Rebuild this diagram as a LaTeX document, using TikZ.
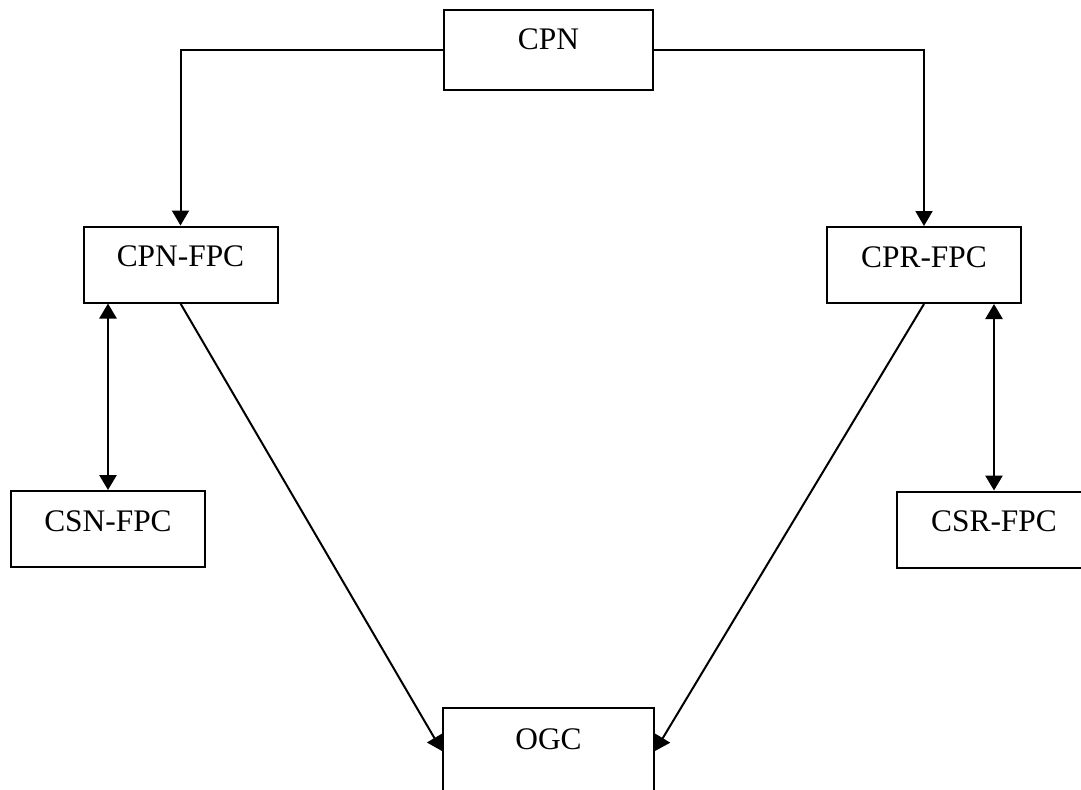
\documentclass[tikz,border=0pt]{standalone}
\usepackage{fontspec}
\setmainfont{Liberation Serif}
\usetikzlibrary{arrows.meta}

\tikzset{
  box/.style={draw, line width=1pt, fill=white, inner sep=0pt,
    minimum width=97pt, minimum height=38pt,
    text height=10.4pt, text depth=8pt,
    font=\fontsize{15.7}{18}\selectfont},
  link/.style={line width=1pt, -{Triangle[length=7.5pt,width=8.5pt]}},
  twoway/.style={line width=1.3pt,
    {Triangle[length=7.5pt,width=8.5pt]}-{Triangle[length=7.5pt,width=8.5pt]}},
}

\begin{document}
\begin{tikzpicture}[x=0.5pt,y=-0.5pt]
  \useasboundingbox (0,0) rectangle (1081,789);

  % top box
  \node[box, minimum width=104.5pt, minimum height=40pt, text depth=11pt] (cpn) at (548.5,50) {CPN};

  % the two FPC boxes under it
  \node[box] (cpnfpc) at (180.5,264.5) {CPN-FPC};
  \node[box] (cprfpc) at (924,265) {CPR-FPC};

  % side boxes
  \node[box] (csnfpc) at (108,529) {CSN-FPC};
  \node[box] (csrfpc) at (994,529.5) {CSR-FPC};

  % bottom box, cut by the page edge
  \node[box, minimum width=105.5pt, minimum height=43pt, text depth=12pt] (ogc) at (548.5,751) {OGC};

  \draw[link] (cpn.west) -| (cpnfpc.north);
  \draw[link] (cpn.east) -| (cprfpc.north);
  \draw[twoway] (csnfpc.north |- cpnfpc.south) -- (csnfpc.north);
  \draw[twoway] (csrfpc.north |- cprfpc.south) -- (csrfpc.north);
  \draw[link] (cpnfpc.south) -- (ogc.west);
  \draw[link] (cprfpc.south) -- (ogc.east);
\end{tikzpicture}
\end{document}
